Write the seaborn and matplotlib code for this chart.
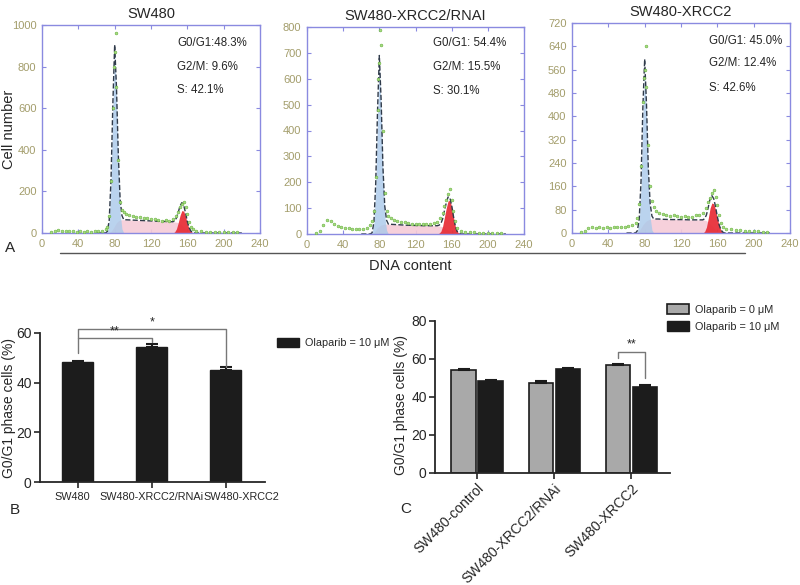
import numpy as np
import pandas as pd
import matplotlib
matplotlib.use("Agg")
import matplotlib.pyplot as plt
import matplotlib.transforms as mtrans
import seaborn as sns
from matplotlib.patches import Patch
from matplotlib.lines import Line2D

sns.set_style("ticks")
plt.rcParams['font.family'] = ['Liberation Sans', 'DejaVu Sans']

# ---------------- data: flow cytometry histograms (panel A) ----------------
titles = ["SW480", "SW480-XRCC2/RNAI", "SW480-XRCC2"]
phase_text = [
    ["G0/G1:48.3%", "G2/M: 9.6%", "S: 42.1%"],
    ["G0/G1: 54.4%", "G2/M: 15.5%", "S: 30.1%"],
    ["G0/G1: 45.0%", "G2/M: 12.4%", "S: 42.6%"],
]
ymax = [1000, 800, 720]
ystep = [200, 100, 80]

# measured points (green dots)
pts_x = [10, 14, 18, 22, 26, 30, 34, 38, 42, 46, 50, 54, 58, 62, 66, 70, 72, 74, 76, 78,
         79, 80, 81, 82, 84, 86, 88, 90, 93, 96, 100, 104, 108, 112, 116, 120, 124, 128,
         132, 136, 140, 144, 147, 150, 152, 154, 156, 158, 160, 162, 164, 166, 170, 175,
         180, 185, 190, 195, 200, 205, 210, 215]
pts_y1 = [5, 12, 15, 12, 10, 8, 8, 6, 8, 6, 8, 6, 8, 10, 12, 18, 30, 80, 250, 600,
          800, 870, 960, 700, 350, 150, 110, 100, 90, 88, 82, 78, 75, 72, 70, 66, 65, 62,
          60, 62, 60, 65, 80, 100, 125, 140, 148, 125, 90, 55, 30, 18, 10, 8,
          7, 6, 5, 5, 4, 4, 3, 3]
pts_y2 = [5, 12, 35, 55, 50, 40, 32, 28, 25, 22, 20, 18, 20, 20, 25, 35, 50, 90, 220, 480,
          600, 660, 790, 730, 400, 160, 90, 70, 60, 55, 50, 48, 45, 42, 40, 40, 38, 38,
          38, 40, 42, 45, 60, 80, 110, 130, 155, 175, 130, 90, 50, 25, 12, 8,
          6, 6, 5, 5, 4, 4, 3, 3]
pts_y3 = [3, 8, 18, 20, 18, 20, 18, 20, 18, 20, 20, 22, 22, 25, 28, 35, 50, 100, 230, 450,
          530, 560, 640, 500, 300, 160, 110, 90, 75, 70, 65, 60, 58, 60, 58, 55, 58, 55,
          56, 60, 62, 70, 85, 105, 120, 138, 148, 125, 95, 60, 35, 20, 14, 12,
          10, 9, 8, 7, 6, 6, 5, 5]

# fitted components (G0/G1, S, G2/M)
fit_x = [60, 70, 72, 74, 76, 78, 80, 82, 84, 86, 88, 90, 95, 100, 110, 120, 130, 140,
         144, 146, 148, 150, 152, 154, 156, 158, 160, 162, 164, 166, 168, 170, 180, 200, 220]
g1_1 = [0, 0, 8, 60, 250, 600, 870, 650, 320, 100, 20, 0, 0, 0, 0, 0, 0, 0,
        0, 0, 0, 0, 0, 0, 0, 0, 0, 0, 0, 0, 0, 0, 0, 0, 0]
s_1 = [0, 0, 0, 2, 8, 20, 35, 50, 58, 62, 64, 64, 63, 62, 60, 58, 56, 55,
       54, 53, 52, 50, 45, 38, 28, 18, 10, 5, 2, 0, 0, 0, 0, 0, 0]
g2_1 = [0, 0, 0, 0, 0, 0, 0, 0, 0, 0, 0, 0, 0, 0, 0, 0, 0, 0,
        0, 5, 20, 50, 85, 108, 105, 80, 45, 20, 7, 2, 0, 0, 0, 0, 0]
g1_2 = [0, 0, 5, 40, 180, 450, 660, 480, 220, 70, 15, 0, 0, 0, 0, 0, 0, 0,
        0, 0, 0, 0, 0, 0, 0, 0, 0, 0, 0, 0, 0, 0, 0, 0, 0]
s_2 = [0, 0, 0, 5, 15, 25, 30, 35, 37, 38, 38, 38, 37, 36, 34, 33, 32, 32,
       32, 31, 30, 28, 25, 20, 15, 10, 6, 3, 1, 0, 0, 0, 0, 0, 0]
g2_2 = [0, 0, 0, 0, 0, 0, 0, 0, 0, 0, 0, 0, 0, 0, 0, 0, 0, 0,
        0, 3, 10, 30, 65, 100, 128, 130, 105, 65, 30, 10, 3, 0, 0, 0, 0]
g1_3 = [0, 0, 5, 40, 160, 400, 560, 400, 180, 55, 10, 0, 0, 0, 0, 0, 0, 0,
        0, 0, 0, 0, 0, 0, 0, 0, 0, 0, 0, 0, 0, 0, 0, 0, 0]
s_3 = [0, 0, 3, 8, 18, 28, 36, 42, 45, 47, 48, 48, 48, 47, 46, 46, 45, 45,
       45, 44, 42, 38, 32, 25, 18, 11, 6, 3, 1, 0, 0, 0, 0, 0, 0]
g2_3 = [0, 0, 0, 0, 0, 0, 0, 0, 0, 0, 0, 0, 0, 0, 0, 0, 0, 0,
        0, 5, 20, 50, 85, 103, 100, 80, 50, 25, 10, 3, 0, 0, 0, 0, 0]

pts_all = [pts_y1, pts_y2, pts_y3]
g1_all = [g1_1, g1_2, g1_3]
s_all = [s_1, s_2, s_3]
g2_all = [g2_1, g2_2, g2_3]

# ---------------- data: bar charts (panels B, C) ----------------
b_labels = ["SW480", "SW480-XRCC2/RNAi", "SW480-XRCC2"]
b_values = [48.4, 54.5, 45.3]
b_err = [0.4, 1.0, 0.9]

c_labels = ["SW480-control", "SW480-XRCC2/RNAi", "SW480-XRCC2"]
c_doses = ["Olaparib = 0 \u03bcM", "Olaparib = 10 \u03bcM"]
c_ctrl = [54.0, 47.2, 57.0]
c_ctrl_err = [0.8, 1.0, 0.6]
c_ola = [48.3, 54.5, 45.3]
c_ola_err = [0.4, 0.9, 0.8]

# ---------------- figure ----------------
fig = plt.figure(figsize=(8, 5.85), dpi=100)
W, H = 800.0, 585.0

def px_axes(left, right, top, bottom):
    return fig.add_axes([left / W, 1 - bottom / H, (right - left) / W, (bottom - top) / H])

hist_boxes = [(42, 260, 25, 233), (307, 524, 27, 234), (572, 790, 23, 233)]
text_pos = [(0.62, [0.913, 0.798, 0.687]), (0.58, [0.923, 0.807, 0.69]),
            (0.628, [0.914, 0.81, 0.69])]
frame_col = "#8a8ae0"
tick_txt = "#a39d6b"

for i in range(3):
    ax = px_axes(*hist_boxes[i])
    ax.fill_between(fit_x, s_all[i], color="#f5cbd8", alpha=0.9, lw=0)
    ax.fill_between(fit_x, g1_all[i], color="#a9c9ea", alpha=0.8, lw=0)
    ax.fill_between(fit_x, g2_all[i], color="#e8303a", alpha=0.95, lw=0)
    total = np.array(g1_all[i]) + np.array(s_all[i]) + np.array(g2_all[i])
    sns.lineplot(x=fit_x, y=total, ax=ax, color="#2f3a4a", lw=1.0, linestyle="--")
    sns.scatterplot(x=pts_x, y=pts_all[i], ax=ax, s=4, color="#a8dc80",
                    edgecolor="#66b040", linewidth=0.4, zorder=5)
    ax.set_xlim(0, 240)
    ax.set_ylim(0, ymax[i])
    ax.set_xticks(range(0, 241, 40))
    ax.set_yticks(range(0, ymax[i] + 1, ystep[i]))
    for sp in ax.spines.values():
        sp.set_visible(True)
        sp.set_color(frame_col)
        sp.set_linewidth(1.0)
    ax.tick_params(direction="in", length=3, color=frame_col, labelcolor=tick_txt,
                   labelsize=8, top=True, right=True, pad=4)
    ax.set_title(titles[i], fontsize=10.5, pad=5)
    tx, tys = text_pos[i]
    for t, ty in zip(phase_text[i], tys):
        ax.text(tx, ty, t, transform=ax.transAxes, fontsize=8.3, va="center")
    if i == 0:
        ax.set_ylabel("Cell number", fontsize=10.5)
        ax.yaxis.set_label_coords(-0.12, 0.5)

fig.text(5 / W, 1 - 248 / H, "A", fontsize=11, va="center")
fig.add_artist(Line2D([60 / W, 745 / W], [1 - 253 / H, 1 - 253 / H], color="#555555", lw=1))
fig.text(410 / W, 1 - 266 / H, "DNA content", fontsize=10.5, ha="center", va="center")

# ---------------- panel B ----------------
axB = px_axes(40, 265, 333, 482)
dfB = pd.DataFrame({"cell": b_labels, "value": b_values})
sns.barplot(data=dfB, x="cell", y="value", color="#1c1c1c", width=0.42,
            edgecolor="#1c1c1c", saturation=1, ax=axB)
axB.errorbar(range(3), b_values, yerr=[np.zeros(3), b_err], fmt="none",
             ecolor="#1c1c1c", capsize=4, elinewidth=1.5, capthick=1.5)
axB.set_xlim(-0.51, 2.53)
axB.set_ylim(0, 60)
axB.set_yticks([0, 20, 40, 60])
axB.set_xlabel("")
axB.set_ylabel("G0/G1 phase cells (%)", fontsize=10)
axB.yaxis.set_label_coords(-0.105, 0.5)
sns.despine(ax=axB)
for sp in ["left", "bottom"]:
    axB.spines[sp].set_linewidth(1.3)
axB.tick_params(labelsize=7.8, width=1.2, length=4, pad=3)
axB.tick_params(axis="y", labelsize=10, pad=2)
# nudge the crowded category labels apart like the original layout
for lab, dx in zip(axB.get_xticklabels(), [-5, 0, 16]):
    lab.set_transform(lab.get_transform() + mtrans.ScaledTranslation(dx / 100, 0, fig.dpi_scale_trans))
br = "#777777"
axB.plot([0, 0, 2, 2], [52, 61.6, 61.6, 46.3], color=br, lw=1, clip_on=False)
axB.plot([0, 1, 1], [58.0, 58.0, 56.4], color=br, lw=1, clip_on=False)
axB.text(0.5, 58.3, "**", ha="center", va="bottom", fontsize=9)
axB.text(1.0, 61.9, "*", ha="center", va="bottom", fontsize=9)
fig.legend(handles=[Patch(facecolor="#1c1c1c", edgecolor="#1c1c1c", label=c_doses[1])],
           loc="center left", bbox_to_anchor=(277 / W, 1 - 343 / H), frameon=False,
           fontsize=7.8, handlelength=2.0, handleheight=1.0, handletextpad=0.6,
           borderpad=0, borderaxespad=0)
fig.text(10 / W, 1 - 510 / H, "B", fontsize=11, va="center")

# ---------------- panel C ----------------
axC = px_axes(435, 670, 321, 473)
dfC = pd.DataFrame({
    "cell": c_labels * 2,
    "dose": [c_doses[0]] * 3 + [c_doses[1]] * 3,
    "value": c_ctrl + c_ola,
})
sns.barplot(data=dfC, x="cell", y="value", hue="dose", palette=["#a9a9a9", "#1c1c1c"],
            width=0.7, gap=0.1, edgecolor="#1c1c1c", linewidth=1.2, saturation=1,
            legend=False, ax=axC)
errs = [c_ctrl_err, c_ola_err]
for cont, vals, e in zip(axC.containers, [c_ctrl, c_ola], errs):
    xs = [p.get_x() + p.get_width() / 2 for p in cont]
    axC.errorbar(xs, vals, yerr=[np.zeros(3), e], fmt="none", ecolor="#1c1c1c",
                 capsize=4, elinewidth=1.5, capthick=1.5)
axC.set_xlim(-0.545, 2.5)
axC.set_ylim(0, 80)
axC.set_yticks([0, 20, 40, 60, 80])
axC.set_xlabel("")
axC.set_ylabel("G0/G1 phase cells (%)", fontsize=10)
axC.yaxis.set_label_coords(-0.115, 0.45)
sns.despine(ax=axC)
for sp in ["left", "bottom"]:
    axC.spines[sp].set_linewidth(1.3)
axC.tick_params(labelsize=10, width=1.2, length=4, pad=2)
plt.setp(axC.get_xticklabels(), rotation=45, ha="right", rotation_mode="anchor")
xg = [p.get_x() + p.get_width() / 2 for p in axC.containers[0]][2]
xb = [p.get_x() + p.get_width() / 2 for p in axC.containers[1]][2]
axC.plot([xg, xg, xb, xb], [60.5, 63.7, 63.7, 50], color=br, lw=1, clip_on=False)
axC.text((xg + xb) / 2, 64.5, "**", ha="center", va="bottom", fontsize=9)
fig.legend(handles=[Patch(facecolor="#a9a9a9", edgecolor="#1c1c1c", lw=1.2, label=c_doses[0]),
                    Patch(facecolor="#1c1c1c", edgecolor="#1c1c1c", label=c_doses[1])],
           loc="upper left", bbox_to_anchor=(667 / W, 1 - 304 / H), frameon=False,
           fontsize=7.8, handlelength=2.0, handleheight=1.0, handletextpad=0.6,
           labelspacing=0.6, borderpad=0, borderaxespad=0)
fig.text(400 / W, 1 - 509 / H, "C", fontsize=11, va="center")

fig.savefig("out.png", dpi=100)
